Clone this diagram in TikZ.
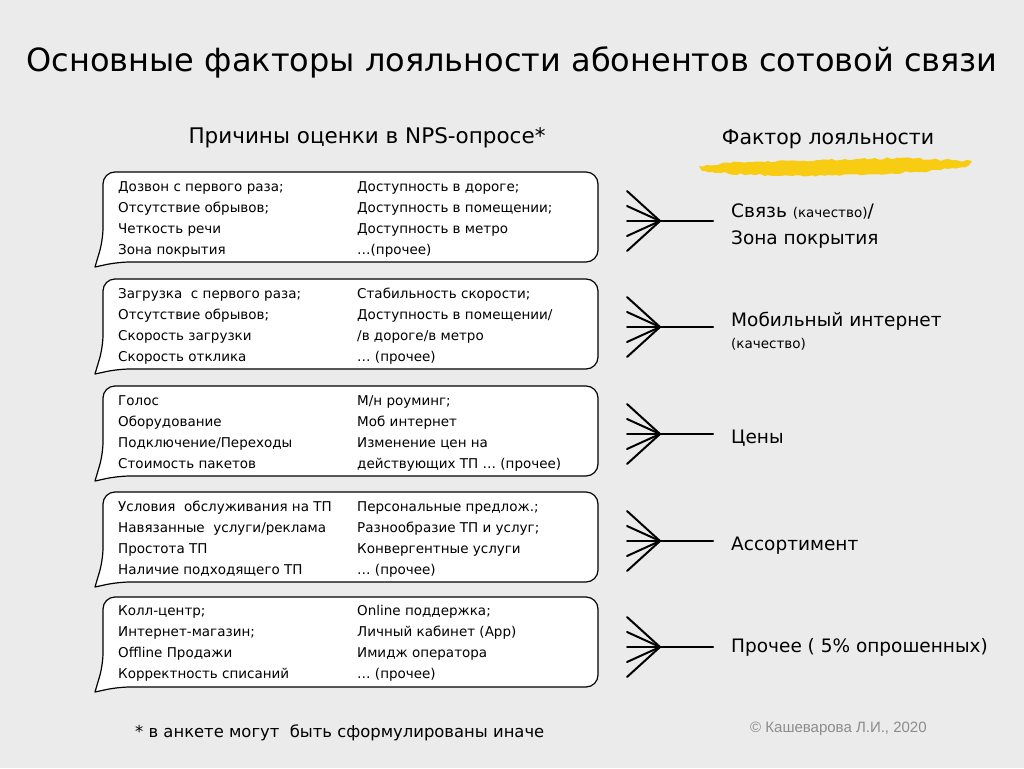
\documentclass[tikz,border=0pt]{standalone}
\usepackage{fontspec}
\setmainfont{DejaVu Sans}
\newfontfamily\copyfont{Liberation Sans}
\usetikzlibrary{decorations.pathmorphing}
\definecolor{bgcol}{HTML}{EBEBEB}
\definecolor{brushcol}{HTML}{F8CC12}
\definecolor{copycol}{HTML}{8C8C8C}
\tikzset{
  bubble/.style={draw, fill=white, line width=1.2pt, rounded corners=12pt, line cap=round, line join=round},
  reason/.style={anchor=base west, inner sep=0pt, align=left, font=\fontsize{13.5}{21}\selectfont},
  factor/.style={anchor=base west, inner sep=0pt, align=left, font=\fontsize{18.5}{27}\selectfont},
  fanline/.style={line width=2pt, line cap=round},
  brush/.style={fill=brushcol, decorate, decoration={random steps, segment length=4pt, amplitude=1.2pt}},
}
\begin{document}
\begin{tikzpicture}[x=1pt, y=-1pt]
  \fill[bgcol] (0,0) rectangle (1024,768);
  \useasboundingbox (0,0) rectangle (1024,768);

  % title and headers
  \node (title) at (512,62) [font=\fontsize{32}{38}\selectfont] {Основные факторы лояльности абонентов сотовой связи};
  \node (hReason) at (367,138) [font=\fontsize{21.5}{26}\selectfont] {Причины оценки в NPS-опросе*};
  \node (hFactor) at (828,139) [font=\fontsize{20.5}{26}\selectfont] {Фактор лояльности};
  \path[brush] (699,166) -- (740,162) -- (820,160) -- (900,158) -- (972,161) -- (968,166) -- (930,171) -- (860,175) -- (780,176) -- (720,173) -- (702,171) -- cycle;

  % speech bubbles
  \foreach \t in {172,279,386,492,597}
    \draw[bubble] (95,\t+95) -- (103,\t+68) -- (103,\t) -- (598,\t) -- (598,\t+90) -- (118,\t+90) -- (95,\t+95);

  % reasons (anchor at baseline of the last line)
  \node (r1a) at (118,254) [reason] {Дозвон с первого раза;\\Отсутствие обрывов;\\Четкость речи\\Зона покрытия};
  \node (r1b) at (357,254) [reason] {Доступность в дороге;\\Доступность в помещении;\\Доступность в метро\\…(прочее)};
  \node (r2a) at (118,361) [reason] {Загрузка\ \ с первого раза;\\Отсутствие обрывов;\\Скорость загрузки\\Скорость отклика};
  \node (r2b) at (357,361) [reason] {Стабильность скорости;\\Доступность в помещении/\\/в дороге/в метро\\… (прочее)};
  \node (r3a) at (118,468) [reason] {Голос\\Оборудование\\Подключение/Переходы\\Стоимость пакетов};
  \node (r3b) at (357,468) [reason] {М/н роуминг;\\Моб интернет\\Изменение цен на\\действующих ТП … (прочее)};
  \node (r4a) at (118,574) [reason] {Условия\ \ обслуживания на ТП\\Навязанные\ \ услуги/реклама\\Простота ТП\\Наличие подходящего ТП};
  \node (r4b) at (357,574) [reason] {Персональные предлож.;\\Разнообразие ТП и услуг;\\Конвергентные услуги\\… (прочее)};
  \node (r5a) at (118,678) [reason] {Колл-центр;\\Интернет-магазин;\\Offline Продажи\\Корректность списаний};
  \node (r5b) at (357,678) [reason] {Online поддержка;\\Личный кабинет (App)\\Имидж оператора\\… (прочее)};

  % fans
  \foreach \y [count=\i] in {221,327,434,541,647} {
    \coordinate (knot\i) at (660,\y);
    \coordinate (tip\i) at (713,\y);
    \draw[fanline] (knot\i) -- (tip\i);
    \foreach \d [count=\j] in {-30,-15,0,15,30} {
      \coordinate (spoke\i\j) at (627,\y+\d);
      \draw[fanline] (spoke\i\j) -- (knot\i);
    }
  }

  % factors
  \node (f1) at (731,244) [factor] {Связь {\fontsize{13.5}{16}\selectfont(качество)}/\\Зона покрытия};
  \node (f2) at (731,348) [factor] {Мобильный интернет\\[-5pt]{\fontsize{13.5}{16}\selectfont(качество)}};
  \node (f3) at (731,443) [factor] {Цены};
  \node (f4) at (731,550) [factor] {Ассортимент};
  \node (f5) at (731,652) [factor] {Прочее ( 5\% опрошенных)};

  % notes
  \node (note) at (135,737) [anchor=base west, inner sep=0pt, font=\fontsize{16.4}{20}\selectfont] {* в анкете могут\ \ быть сформулированы иначе};
  \node (copy) at (750,732) [anchor=base west, inner sep=0pt, text=copycol, font=\copyfont\fontsize{15}{18}\selectfont] {© Кашеварова Л.И., 2020};
\end{tikzpicture}
\end{document}
